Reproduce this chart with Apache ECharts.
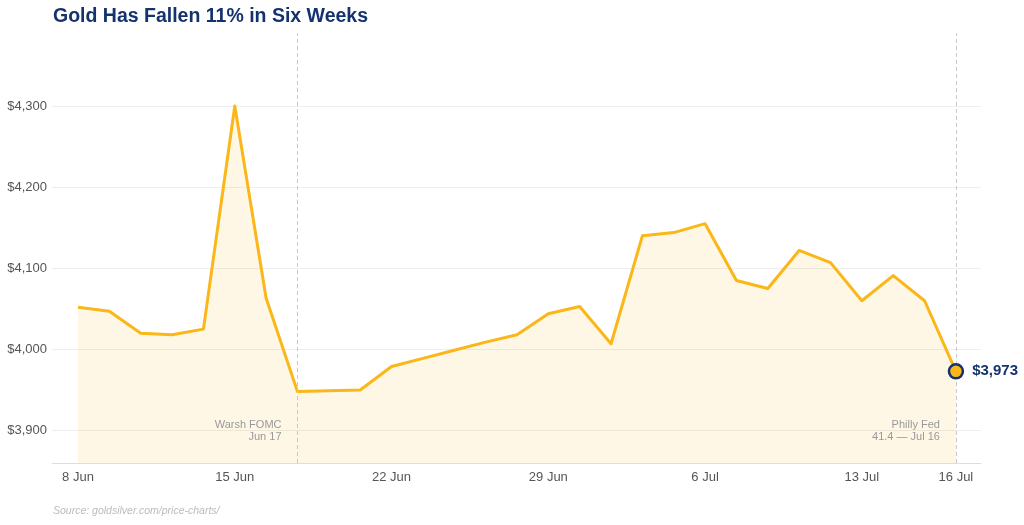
<!DOCTYPE html>
<html>
<head>
<meta charset="utf-8">
<script src="https://cdn.jsdelivr.net/npm/echarts@6/dist/echarts.min.js"></script>
<style>
  html, body { margin: 0; padding: 0; background: #fff; }
  #chart { width: 1024px; height: 525px; }
</style>
</head>
<body>
<div id="chart"></div>
<script>
// trading days, 8 Jun - 16 Jul
var dates = [
  "8 Jun", "9 Jun", "10 Jun", "11 Jun", "12 Jun",
  "15 Jun", "16 Jun", "17 Jun", "18 Jun", "19 Jun",
  "22 Jun", "23 Jun", "24 Jun", "25 Jun", "26 Jun",
  "29 Jun", "30 Jun", "1 Jul", "2 Jul", "3 Jul",
  "6 Jul", "7 Jul", "8 Jul", "9 Jul", "10 Jul",
  "13 Jul", "14 Jul", "15 Jul", "16 Jul"
];
var prices = [
  4052, 4047, 4020, 4018, 4025,
  4300, 4063, 3948, 3949, 3950,
  3979, 3989, 3999, 4009, 4018,
  4044, 4053, 4007, 4140, 4144,
  4155, 4085, 4075, 4122, 4107,
  4060, 4091, 4060, 3973
];
var xLabelIdx = [0, 5, 10, 15, 20, 25, 28];
var yTicks = [3900, 4000, 4100, 4200, 4300];
var events = [
  { idx: 7, text: "Warsh FOMC\nJun 17" },
  { idx: 28, text: "Philly Fed\n41.4 \u2014 Jul 16" }
];

var gold = "#FBB618";
var navy = "#14336E";
var last = prices.length - 1;

function money(v) {
  return "$" + v.toLocaleString("en-US");
}

var chart = echarts.init(document.getElementById("chart"));
chart.setOption({
  animation: false,
  textStyle: { fontFamily: "Liberation Sans, Arial, sans-serif" },
  title: [
    {
      text: "Gold Has Fallen 11% in Six Weeks",
      left: 48, top: 2,
      textStyle: { fontSize: 19.5, fontWeight: "bold", color: navy }
    },
    {
      text: "Source: goldsilver.com/price-charts/",
      left: 48, top: 501,
      textStyle: { fontSize: 10.5, fontWeight: "normal", fontStyle: "italic", color: "#bbb" }
    }
  ],
  grid: { left: 52, right: 43, top: 33, bottom: 62 },
  xAxis: {
    type: "value",
    min: -0.83,
    max: 28.8,
    axisLine: { show: true, lineStyle: { color: "#ddd", width: 1 } },
    axisTick: { show: false, customValues: xLabelIdx },
    splitLine: { show: false },
    axisLabel: {
      customValues: xLabelIdx,
      formatter: function (v) { return dates[Math.round(v)]; },
      color: "#555", fontSize: 13, margin: 8
    }
  },
  yAxis: {
    type: "value",
    min: 3860,
    max: 4390,
    axisLine: { show: false },
    axisTick: { show: false, customValues: yTicks },
    splitLine: { show: true, lineStyle: { color: "#eee", width: 1 } },
    axisLabel: {
      customValues: yTicks,
      formatter: function (v) { return money(v); },
      color: "#555", fontSize: 13, margin: 5
    }
  },
  series: [
    {
      type: "line",
      data: prices.map(function (p, i) { return [i, p]; }),
      showSymbol: false,
      lineStyle: { color: gold, width: 3, join: "round" },
      areaStyle: { color: gold, opacity: 0.11, origin: "start" },
      markLine: {
        silent: true,
        symbol: "none",
        label: { show: false },
        lineStyle: { color: "#c8c8c8", type: [4, 3], width: 1 },
        data: events.map(function (e) { return { xAxis: e.idx }; })
      },
      markPoint: {
        silent: true,
        symbol: "circle",
        symbolSize: 0,
        data: events.map(function (e) {
          return {
            coord: [e.idx, 3900],
            label: {
              show: true,
              formatter: e.text,
              position: "left",
              distance: 16,
              align: "right",
              color: "#999",
              fontSize: 11,
              lineHeight: 12
            }
          };
        })
      }
    },
    {
      type: "scatter",
      data: [[last, prices[last]]],
      symbol: "circle",
      symbolSize: 14,
      itemStyle: { color: gold, borderColor: navy, borderWidth: 2.5, opacity: 1 },
      label: {
        show: true,
        position: "right",
        distance: 8,
        formatter: function () { return money(prices[last]); },
        color: navy,
        fontSize: 15,
        fontWeight: "bold"
      },
      z: 5
    }
  ]
});
</script>
</body>
</html>
